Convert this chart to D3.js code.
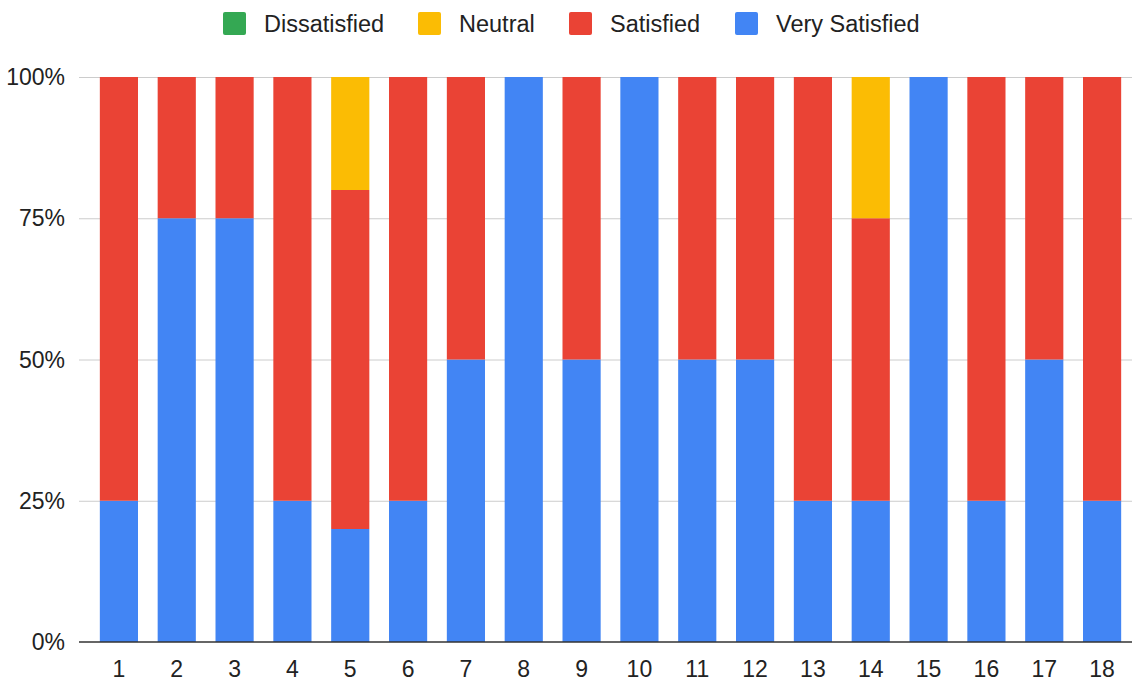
<!DOCTYPE html>
<html>
<head>
<meta charset="utf-8">
<script src="https://cdn.jsdelivr.net/npm/d3@7"></script>
<style>
  body { margin: 0; background: #fff; }
  text { font-family: "Liberation Sans", Arial, sans-serif; fill: #222; }
</style>
</head>
<body>
<div id="chart"></div>
<script>
const categories = ["1","2","3","4","5","6","7","8","9","10","11","12","13","14","15","16","17","18"];
const seriesNames = ["Dissatisfied", "Neutral", "Satisfied", "Very Satisfied"];
const seriesColors = ["#34a853", "#fbbc04", "#ea4335", "#4285f4"];
const verySatisfied = [25,75,75,25,20,25,50,100,50,100,50,50,25,25,100,25,50,25];
const satisfied     = [75,25,25,75,60,75,50,0,50,0,50,50,75,50,0,75,50,75];
const neutral       = [0,0,0,0,20,0,0,0,0,0,0,0,0,25,0,0,0,0];
const dissatisfied  = [0,0,0,0,0,0,0,0,0,0,0,0,0,0,0,0,0,0];
const yTicks = [0, 0.25, 0.5, 0.75, 1];

let width = 1132, height = 682;
let plotLeft = 79, plotRight = 1132, plotTop = 77, plotBottom = 642;
let tickFont = '23px';
let legendFont = '23.5px';

let svg = d3.select('#chart')
	.append('svg')
	.attr('width', width)
	.attr('height', height);

// rows in stacking order, bottom first
let rows = categories.map((c, i) => {
	let total = verySatisfied[i] + satisfied[i] + neutral[i] + dissatisfied[i];
	return {
		cat: c,
		"Very Satisfied": verySatisfied[i] / total,
		"Satisfied": satisfied[i] / total,
		"Neutral": neutral[i] / total,
		"Dissatisfied": dissatisfied[i] / total
	};
});

let stackKeys = ["Very Satisfied", "Satisfied", "Neutral", "Dissatisfied"];
let stacked = d3.stack().keys(stackKeys)(rows);

let x = d3.scaleBand()
	.domain(categories)
	.range([plotLeft + 11, plotRight - 1])
	.paddingInner(0.34)
	.paddingOuter(0.17);

let y = d3.scaleLinear()
	.domain([0, 1])
	.range([plotBottom, plotTop]);

let color = d3.scaleOrdinal().domain(seriesNames).range(seriesColors);

// gridlines
svg.append('g')
	.selectAll('line')
	.data(yTicks.filter(t => t > 0))
	.enter()
	.append('line')
	.attr('x1', plotLeft)
	.attr('x2', plotRight)
	.attr('y1', d => y(d) + 0.5)
	.attr('y2', d => y(d) + 0.5)
	.attr('stroke', '#cccccc')
	.attr('stroke-width', 1);

// bars
svg.append('g')
	.selectAll('g')
	.data(stacked)
	.enter()
	.append('g')
	.attr('fill', d => color(d.key))
	.selectAll('rect')
	.data(d => d)
	.enter()
	.append('rect')
	.attr('x', d => x(d.data.cat))
	.attr('width', x.bandwidth())
	.attr('y', d => y(d[1]))
	.attr('height', d => y(d[0]) - y(d[1]));

// baseline
svg.append('line')
	.attr('x1', plotLeft)
	.attr('x2', plotRight)
	.attr('y1', plotBottom)
	.attr('y2', plotBottom)
	.attr('stroke', '#333')
	.attr('stroke-width', 1.5);

// y labels
svg.append('g')
	.selectAll('text')
	.data(yTicks)
	.enter()
	.append('text')
	.attr('x', plotLeft - 14)
	.attr('y', d => y(d))
	.attr('dy', '.35em')
	.attr('text-anchor', 'end')
	.style('font-size', tickFont)
	.text(d => d3.format('.0%')(d));

// x labels
svg.append('g')
	.selectAll('text')
	.data(categories)
	.enter()
	.append('text')
	.attr('x', d => x(d) + x.bandwidth() / 2)
	.attr('y', 677)
	.attr('text-anchor', 'middle')
	.style('font-size', tickFont)
	.text(d => d);

// legend
let legendX = [223, 418, 569, 735];
let legend = svg.append('g')
	.selectAll('g')
	.data(seriesNames)
	.enter()
	.append('g')
	.attr('transform', (d, i) => 'translate(' + legendX[i] + ',12)');

legend.append('rect')
	.attr('width', 23)
	.attr('height', 23)
	.attr('rx', 2)
	.attr('fill', d => color(d));

legend.append('text')
	.attr('x', 41)
	.attr('y', 20)
	.style('font-size', legendFont)
	.text(d => d);
</script>
</body>
</html>
